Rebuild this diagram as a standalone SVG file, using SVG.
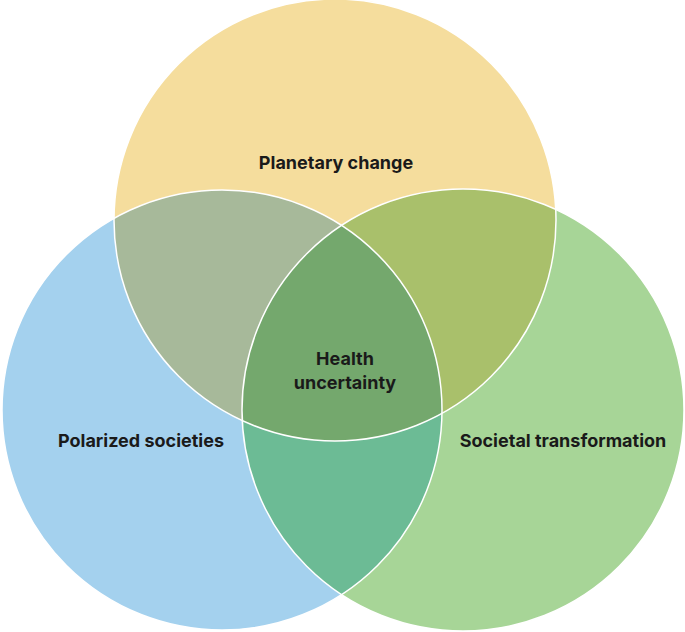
<svg xmlns="http://www.w3.org/2000/svg" width="685" height="632" viewBox="0 0 685 632">
<defs>
<clipPath id="cT"><circle cx="335" cy="220" r="221"/></clipPath>
<clipPath id="cL"><circle cx="222" cy="410" r="220"/></clipPath>
<clipPath id="cR"><circle cx="463" cy="410" r="221"/></clipPath>
</defs>
<style>
text{font-family:"Inter","Liberation Sans",sans-serif;font-weight:700;font-size:18px;fill:#1a1a1a;text-anchor:middle}
.o{fill:none;stroke:#fff;stroke-width:1.5}
</style>
<rect width="685" height="632" fill="#fff"/>
<g id="top"><circle cx="335" cy="220" r="221" fill="#f5dd9d"/></g>
<g id="left"><circle cx="222" cy="410" r="220" fill="#a4d1ee"/></g>
<g id="right"><circle cx="463" cy="410" r="221" fill="#a7d597"/></g>
<g id="overlaps">
<circle cx="222" cy="410" r="220" fill="#a7b99a" clip-path="url(#cT)"/>
<circle cx="463" cy="410" r="221" fill="#a9c06b" clip-path="url(#cT)"/>
<circle cx="463" cy="410" r="221" fill="#6cbb95" clip-path="url(#cL)"/>
<g clip-path="url(#cT)"><circle cx="463" cy="410" r="221" fill="#74a86d" clip-path="url(#cL)"/></g>
</g>
<g id="outlines">
<circle class="o" cx="335" cy="220" r="221"/>
<circle class="o" cx="222" cy="410" r="220"/>
<circle class="o" cx="463" cy="410" r="221"/>
</g>
<g id="labels">
<text x="336" y="169">Planetary change</text>
<text x="141" y="447">Polarized societies</text>
<text x="563" y="447">Societal transformation</text>
<text x="345" y="365">Health</text>
<text x="345" y="389">uncertainty</text>
</g>
</svg>
